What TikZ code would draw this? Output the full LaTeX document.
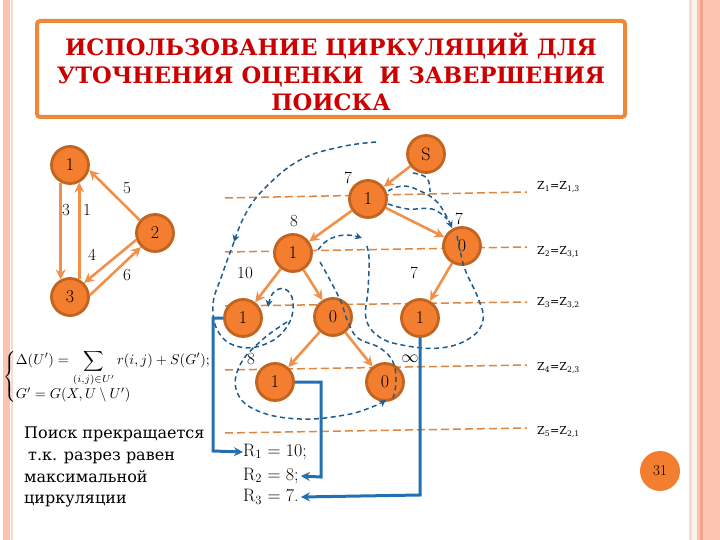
\documentclass[tikz,border=0pt]{standalone}
\usepackage{fontspec}
\usepackage{amsmath}
\newfontfamily\ttlfont{DejaVu Serif}
\newfontfamily\rufont{DejaVu Serif}
\usetikzlibrary{arrows.meta}
\definecolor{nodeor}{HTML}{F47E2F}
\definecolor{nodeedge}{HTML}{C2631F}
\definecolor{edgeor}{HTML}{F0904A}
\definecolor{cutor}{HTML}{DE8640}
\definecolor{cblue}{HTML}{1E5C8C}
\definecolor{sblue}{HTML}{2270B0}
\definecolor{titred}{HTML}{CC0000}
\definecolor{boxor}{HTML}{F0883A}
\definecolor{stripe}{HTML}{FCC3AE}
\definecolor{stripedark}{HTML}{F4A38C}
\definecolor{stripelight}{HTML}{F5DCCB}
\definecolor{stripepale}{HTML}{FEF3EA}
\begin{document}
\begin{tikzpicture}[x=1pt,y=-1pt,
  vtx/.style={circle, fill=nodeor, draw=nodeedge, line width=2.8pt, minimum size=37pt, inner sep=0pt, font=\fontsize{18}{18}\selectfont},
  arc/.style={draw=edgeor, line width=2.6pt, -{Stealth[length=10pt,width=10pt]}},
  cut/.style={draw=cutor, line width=1.5pt, dash pattern=on 8pt off 4pt},
  circ/.style={draw=cblue, line width=1.5pt, dash pattern=on 5pt off 3.5pt},
  circarr/.style={circ, -{Stealth[length=7pt,width=7pt]}},
  res/.style={draw=sblue, line width=3pt, -{Stealth[length=9pt,width=9pt]}},
  wlab/.style={font=\fontsize{17}{17}\selectfont, inner sep=0pt},
  zlab/.style={font=\rufont\fontsize{11}{11}\selectfont, anchor=west, inner sep=0pt},
  rlab/.style={font=\fontsize{18}{18}\selectfont, anchor=west, inner sep=0pt},
]
\useasboundingbox (0,0) rectangle (720,540);
% page borders
\fill[stripe] (3,0) rectangle (10,540);
\fill[stripelight] (11,0) rectangle (13,540);
\fill[stripelight] (689,0) rectangle (692,540);
\fill[stripepale] (692,0) rectangle (697,540);
\fill[stripe] (697,0) rectangle (720,540);
\fill[stripedark] (700,0) rectangle (702.5,540);

% title
\node[draw=boxor, line width=4pt, rounded corners=3pt, minimum width=588pt, minimum height=96pt, fill=white] (tbox) at (331,69) {};
\node[font=\ttlfont\bfseries\fontsize{22.6}{27.5}\selectfont, text=titred, align=center] (ttl) at (331,72)
 {ИСПОЛЬЗОВАНИЕ ЦИРКУЛЯЦИЙ ДЛЯ\\УТОЧНЕНИЯ ОЦЕНКИ \ И ЗАВЕРШЕНИЯ\\ПОИСКА};

% left graph
\node[vtx] (a1) at (70,165) {1};
\node[vtx] (a2) at (155,233) {2};
\node[vtx] (a3) at (70,297) {3};
\draw[arc] (a1.242) -- (a3.118);
\draw[arc] (a3.62) -- (a1.298);
\draw[arc] (a2.140) -- (a1.-15);
\draw[arc] (a2.200) -- (a3.45);
\draw[arc] (a3.5) -- (a2.225);
\node[wlab] (l5) at (127,188) {5};
\node[wlab] (l3) at (66,210) {3};
\node[wlab] (l1) at (87,210) {1};
\node[wlab] (l4) at (92,255) {4};
\node[wlab] (l6) at (127,275) {6};

% cut lines
\draw[cut] (225,198) -- (527,192);
\draw[cut] (225,252) -- (527,247);
\draw[cut] (225,306) -- (527,302);
\draw[cut] (225,370) -- (527,365);
\draw[cut] (225,433) -- (527,428);
\node[zlab] (z1) at (537,187) {Z\textsubscript{1}=Z\textsubscript{1,3}};
\node[zlab] (z2) at (537,252) {Z\textsubscript{2}=Z\textsubscript{3,1}};
\node[zlab] (z3) at (537,303) {Z\textsubscript{3}=Z\textsubscript{3,2}};
\node[zlab] (z4) at (537,368) {Z\textsubscript{4}=Z\textsubscript{2,3}};
\node[zlab] (z5) at (537,432) {Z\textsubscript{5}=Z\textsubscript{2,1}};

% main graph
\node[vtx] (s) at (426,154) {S};
\node[vtx] (n1) at (368,199) {1};
\node[vtx] (n2) at (462,246) {0};
\node[vtx] (n3) at (293,253) {1};
\node[vtx] (n4) at (243,318) {1};
\node[vtx] (n5) at (333,317) {0};
\node[vtx] (n6) at (420,318) {1};
\node[vtx] (n7) at (275,382) {1};
\node[vtx] (n8) at (385,382) {0};
\draw[arc] (s) -- (n1);
\draw[arc] (n1) -- (n2);
\draw[arc] (n1) -- (n3);
\draw[arc] (n3) -- (n4);
\draw[arc] (n3) -- (n5);
\draw[arc] (n2) -- (n6);
\draw[arc] (n5) -- (n7);
\draw[arc] (n5) -- (n8);
\node[wlab] (w1) at (348,178) {7};
\node[wlab] (w2) at (459,219) {7};
\node[wlab] (w3) at (294,221) {8};
\node[wlab] (w4) at (245,273) {10};
\node[wlab] (w5) at (414,273) {7};
\node[wlab] (w6) at (251,359) {8};
\node[wlab] (w7) at (410,359) {$\infty$};

% circulations (blue dashed)
\draw[circarr] plot[smooth, tension=0.7] coordinates {(376,142) (340,147) (300,160) (266,187) (246,213) (234,242)};
\draw[circarr] plot[smooth, tension=0.7] coordinates {(234,242) (222,275) (213,305) (219,333) (240,347) (268,343) (288,325) (293,302) (285,289) (273,293) (268,307)};
\draw[circarr] plot[smooth, tension=0.7] coordinates {(287,322) (262,340) (240,365) (237,392) (258,411) (300,419) (345,415) (372,407) (386,400)};
\draw[circ] plot[smooth, tension=0.7] coordinates {(413,173) (427,178) (430,192)};
\draw[circarr] plot[smooth, tension=0.7] coordinates {(388,191) (402,186) (418,190) (438,203) (452,228)};
\draw[circ] plot[smooth, tension=0.7] coordinates {(388,204) (408,209) (432,209) (447,219)};
\draw[circ] plot[smooth, tension=0.7] coordinates {(457,236) (461,255) (466,272) (478,298) (483,320) (470,338) (440,348) (402,345) (378,336) (366,318) (368,290) (369,258) (366,244)};
\draw[circarr] plot[smooth, tension=0.7] coordinates {(318,250) (328,240) (345,235) (362,238)};
\draw[circ] plot[smooth, tension=0.7] coordinates {(320,262) (330,280) (341,302) (348,322) (358,338) (380,348) (393,362) (396,382) (393,398)};

% results
\node[rlab] (r1) at (243,452) {R\textsubscript{1} = 10;};
\node[rlab] (r2) at (243,476) {R\textsubscript{2} = 8;};
\node[rlab] (r3) at (243,497) {R\textsubscript{3} = 7.};
\draw[res] (n4.west) -- (213,318) -- (213,451) -- (r1.west);
\draw[res] (n7.east) -- (321,382) -- (321,477) -- ([xshift=2pt]r2.east);
\draw[res] (n6.south) -- (420,495) -- ([xshift=2pt]r3.east);

% formula
\node[anchor=west, scale=1.42, inner sep=0pt] (f) at (3,377) {$\left\{\begin{array}{@{}l@{}} \displaystyle\Delta(U') = \sum_{(i,j)\in U'} r(i,j)+S(G');\\[12pt] G' = G(X,U\setminus U') \end{array}\right.$};

% text
\node[anchor=north west, align=left, inner sep=0pt, font=\rufont\fontsize{16}{21.7}\selectfont] (txt) at (24,427)
 {Поиск прекращается\\\hspace*{4pt}т.к. разрез равен\\максимальной\\циркуляции};

% page number
\node[circle, fill=nodeor, minimum size=40pt, inner sep=0pt, font=\fontsize{15}{15}\selectfont] (pg) at (660,471) {31};
\end{tikzpicture}
\end{document}
